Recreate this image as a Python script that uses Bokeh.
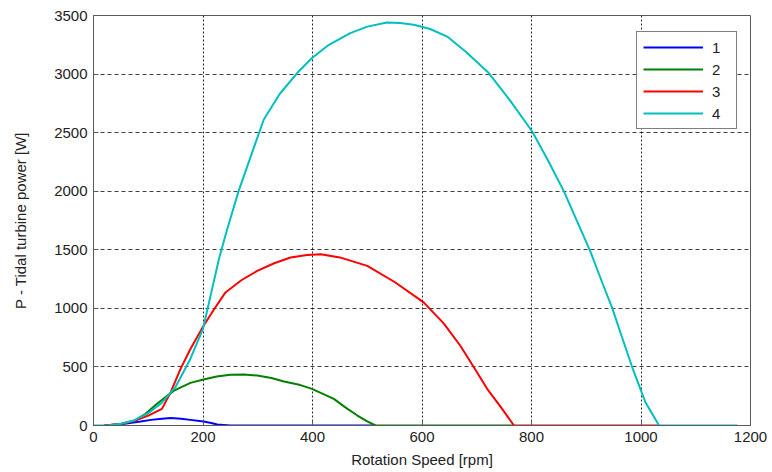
from bokeh.plotting import figure
from bokeh.models import Range1d, FixedTicker, Legend, LegendItem
from bokeh.embed import file_html
from bokeh.resources import INLINE

# ---- data ----
labels = ["1", "2", "3", "4"]
colors = ["#0000ff", "#008000", "#ff0000", "#00bfbf"]

rpm1 = [20, 50, 86, 105, 125, 141, 160, 177, 201, 215, 226, 250, 515]
pow1 = [0, 10, 34, 48, 57, 63, 58, 48, 34, 22, 9, 0, 0]

rpm2 = [20, 50, 74, 95, 116, 147, 177, 201, 225, 250, 275, 299, 325, 348, 378,
        399, 420, 439, 460, 482, 500, 515, 767]
pow2 = [0, 12, 40, 100, 185, 298, 364, 392, 418, 434, 436, 426, 405, 375, 345,
        313, 268, 227, 155, 85, 35, 0, 0]

rpm3 = [20, 50, 75, 100, 125, 141, 159, 177, 201, 220, 241, 270, 299, 330, 360,
        390, 415, 450, 500, 550, 603, 640, 670, 695, 719, 745, 768, 1032]
pow3 = [0, 12, 40, 85, 142, 284, 483, 653, 852, 990, 1136, 1240, 1320, 1385, 1434,
        1455, 1462, 1435, 1363, 1225, 1051, 870, 681, 495, 313, 150, 0, 0]

rpm4 = [0, 25, 50, 75, 100, 125, 150, 175, 200, 229, 244, 265, 290, 311, 340,
        372, 399, 430, 469, 500, 536, 560, 585, 615, 646, 680, 722, 760, 801,
        830, 859, 885, 908, 930, 947, 965, 984, 1008, 1033, 1176]
pow4 = [0, 0, 15, 45, 105, 195, 330, 550, 825, 1420, 1673, 2001, 2333, 2612, 2830,
        3009, 3137, 3250, 3350, 3405, 3440, 3436, 3421, 3385, 3320, 3190, 3009,
        2780, 2512, 2265, 2001, 1725, 1480, 1210, 1008, 758, 497, 199, 0, 0]

x_ticks = [0, 200, 400, 600, 800, 1000, 1200]
y_ticks = [0, 500, 1000, 1500, 2000, 2500, 3000, 3500]

series = [(rpm1, pow1), (rpm2, pow2), (rpm3, pow3), (rpm4, pow4)]

FONT = "Liberation Sans"
TXT = "#222222"
AX = "#5a5a5a"

p = figure(width=768, height=470, output_backend="svg", toolbar_location=None,
           x_range=Range1d(0, 1200), y_range=Range1d(0, 3500),
           min_border_left=93, min_border_right=18, min_border_top=15,
           min_border_bottom=43)
p.background_fill_color = "white"
p.border_fill_color = "white"
p.outline_line_color = AX
p.outline_line_width = 1

renderers = []
for (xs, ys), c in zip(series, colors):
    r = p.line(xs, ys, line_color=c, line_width=2)
    renderers.append(r)

# axes
p.xaxis.ticker = FixedTicker(ticks=x_ticks)
p.yaxis.ticker = FixedTicker(ticks=y_ticks)
for ax in (p.xaxis, p.yaxis):
    ax.axis_line_color = AX
    ax.axis_line_width = 1
    ax.major_tick_in = 5
    ax.major_tick_out = 0
    ax.major_tick_line_color = AX
    ax.minor_tick_line_color = None
    ax.major_label_text_font = FONT
    ax.major_label_text_font_size = "15px"
    ax.major_label_text_color = TXT
    ax.axis_label_text_font = FONT
    ax.axis_label_text_font_size = "15px"
    ax.axis_label_text_font_style = "normal"
    ax.axis_label_text_color = TXT

p.xaxis.axis_label = "Rotation Speed [rpm]"
p.yaxis.axis_label = "P - Tidal turbine power [W]"
p.xaxis.major_label_standoff = 6
p.xaxis.axis_label_standoff = 6
p.yaxis.major_label_standoff = 6
p.yaxis.axis_label_standoff = 22

# grid
p.xgrid.ticker = FixedTicker(ticks=x_ticks)
p.ygrid.ticker = FixedTicker(ticks=y_ticks)
p.xgrid.grid_line_color = "black"
p.xgrid.grid_line_dash = "2 2"
p.xgrid.grid_line_alpha = 0.85
p.ygrid.grid_line_color = "black"
p.ygrid.grid_line_dash = "4 3"
p.ygrid.grid_line_alpha = 0.75

# legend
legend = Legend(items=[LegendItem(label=l, renderers=[r]) for l, r in zip(labels, renderers)],
                location=(543, 296))
legend.border_line_color = "black"
legend.border_line_width = 1
legend.background_fill_color = "white"
legend.background_fill_alpha = 1
legend.label_text_font = FONT
legend.label_text_font_size = "15px"
legend.label_text_color = TXT
legend.glyph_width = 60
legend.glyph_height = 18
legend.label_height = 18
legend.label_width = 18
legend.label_standoff = 9
legend.spacing = 4
legend.padding = 6
legend.margin = 0
p.add_layout(legend, "center")

open("out.html", "w").write(file_html(p, INLINE))
